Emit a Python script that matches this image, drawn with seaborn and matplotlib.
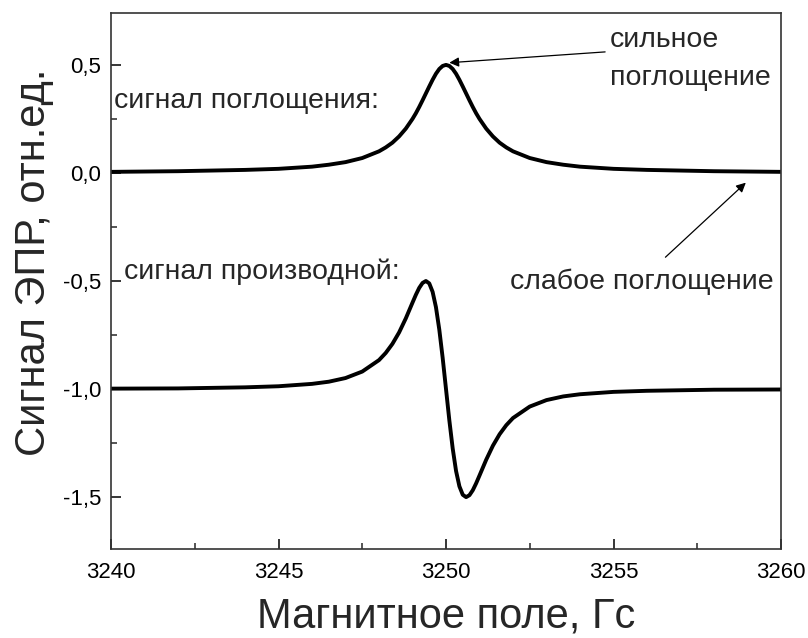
import matplotlib
matplotlib.use("Agg")
import matplotlib.pyplot as plt
from matplotlib.ticker import FuncFormatter, MultipleLocator
import seaborn as sns
import pandas as pd

# Magnetic field sweep, G
field = [3240, 3242, 3244, 3245, 3246, 3246.5, 3247, 3247.5, 3248, 3248.2,
         3248.4, 3248.6, 3248.8, 3249.0, 3249.1, 3249.2, 3249.3, 3249.4, 3249.5,
         3249.6, 3249.7, 3249.8, 3249.9, 3250.0, 3250.1, 3250.2, 3250.3, 3250.4,
         3250.5, 3250.6, 3250.7, 3250.8, 3250.9, 3251.0, 3251.2, 3251.4, 3251.6,
         3251.8, 3252, 3252.5, 3253, 3253.5, 3254, 3255, 3256, 3258, 3260]

# Absorption line, arb. units
absorption = [0.005, 0.008, 0.014, 0.019, 0.029, 0.038, 0.050, 0.069, 0.100, 0.118,
              0.140, 0.169, 0.205, 0.250, 0.276, 0.305, 0.336, 0.368, 0.400,
              0.431, 0.459, 0.481, 0.495, 0.500, 0.495, 0.481, 0.459, 0.431,
              0.400, 0.368, 0.336, 0.305, 0.276, 0.250, 0.205, 0.169, 0.140,
              0.118, 0.100, 0.069, 0.050, 0.038, 0.029, 0.019, 0.014, 0.008, 0.005]

# First-derivative line, shifted down by 1
derivative = [-0.998, -0.997, -0.992, -0.987, -0.976, -0.966, -0.949, -0.919, -0.866, -0.833,
              -0.791, -0.738, -0.673, -0.600, -0.564, -0.532, -0.509, -0.500, -0.511,
              -0.550, -0.621, -0.725, -0.855, -1.000, -1.145, -1.275, -1.379, -1.450,
              -1.489, -1.500, -1.491, -1.468, -1.436, -1.400, -1.327, -1.262, -1.209,
              -1.167, -1.134, -1.081, -1.051, -1.034, -1.024, -1.013, -1.008, -1.003, -1.002]

x_ticks = [3240, 3245, 3250, 3255, 3260]
y_ticks = [0.5, 0.0, -0.5, -1.0, -1.5]

sns.set_theme(style="ticks")
plt.rcParams["font.family"] = ["Liberation Sans", "DejaVu Sans"]

df = pd.DataFrame({"field": field, "absorption": absorption, "derivative": derivative})

fig = plt.figure(figsize=(8.08, 6.38), dpi=100)
ax = fig.add_axes([111 / 808, 1 - 549 / 638, 670 / 808, 536 / 638])

sns.lineplot(data=df, x="field", y="absorption", ax=ax, color="black", linewidth=2.8)
sns.lineplot(data=df, x="field", y="derivative", ax=ax, color="black", linewidth=2.8)

ax.set_xlim(3240, 3260)
ax.set_ylim(-1.74, 0.74)
ax.set_xticks(x_ticks)
ax.set_yticks(y_ticks)
ax.xaxis.set_minor_locator(MultipleLocator(2.5))
ax.yaxis.set_minor_locator(MultipleLocator(0.25))
ax.yaxis.set_major_formatter(FuncFormatter(lambda v, p: f"{v:.1f}".replace(".", ",")))

ax.tick_params(which="major", direction="in", length=7, width=1.1, labelsize=16,
               pad=7, colors="black", top=False, right=False)
ax.tick_params(axis="x", which="major", pad=9)
ax.tick_params(which="minor", direction="in", length=4, width=1.1,
               top=False, right=False)
for s in ax.spines.values():
    s.set_linewidth(1.2)
    s.set_color("#333333")

ax.set_xlabel("Магнитное поле, Гс", fontsize=30, labelpad=10)
ax.set_ylabel("Сигнал ЭПР, отн.ед.", fontsize=30, labelpad=6)
ax.yaxis.set_label_coords(-0.085, 0.535)

tx = dict(fontsize=20.5, va="center")
ax.text(3240.1, 0.335, "сигнал поглощения:", ha="left", **tx)
ax.text(3240.4, -0.455, "сигнал производной:", ha="left", **tx)
ax.text(3254.9, 0.615, "сильное", ha="left", **tx)
ax.text(3254.9, 0.44, "поглощение", ha="left", **tx)
ax.text(3255.85, -0.505, "слабое поглощение", ha="center", **tx)

arrow = dict(arrowstyle="-|>", color="black", lw=0.9, mutation_scale=14, shrinkA=0, shrinkB=0)
ax.annotate("", xy=(3250.1, 0.51), xytext=(3254.75, 0.56), arrowprops=arrow)
ax.annotate("", xy=(3258.95, -0.045), xytext=(3256.55, -0.39), arrowprops=arrow)

fig.savefig("out.png", dpi=100)
